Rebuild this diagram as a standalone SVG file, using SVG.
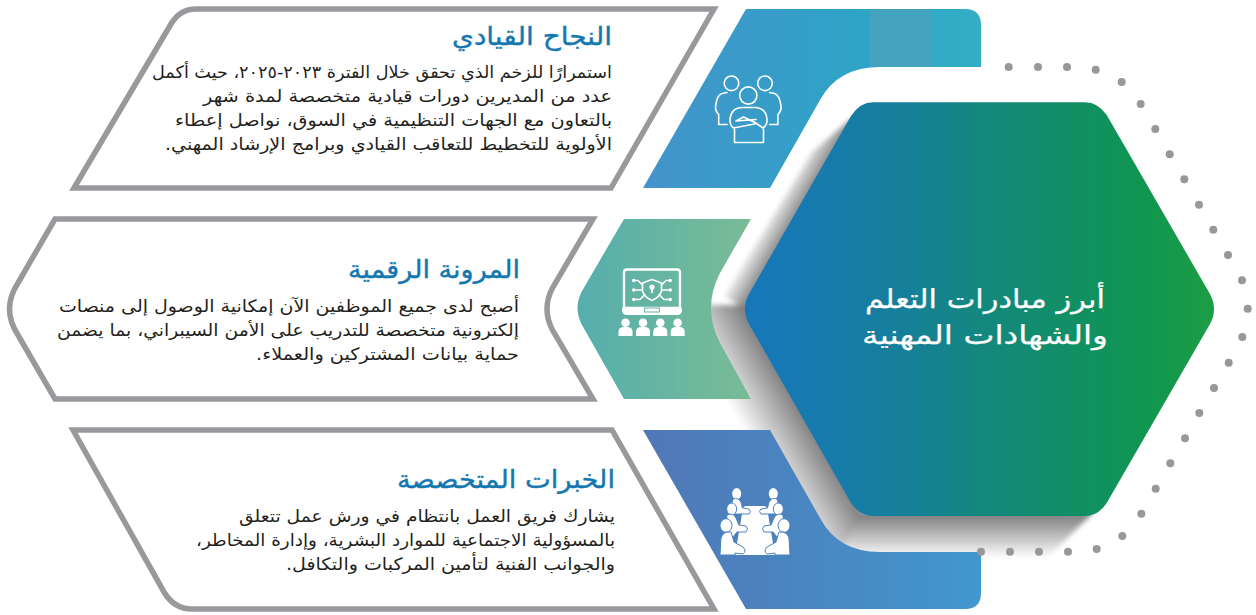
<svg xmlns="http://www.w3.org/2000/svg" width="1256" height="615" viewBox="0 0 1256 615">
<style>
text{font-family:"DejaVu Sans","Noto Sans",sans-serif;direction:rtl;text-anchor:start}
.h{font-size:25px;fill:#1577b0;stroke:#1577b0;stroke-width:.4}
.b{font-size:17px;fill:#231f20}
.c{font-size:26px;fill:#fff;stroke:#fff;stroke-width:.25}
.o{fill:#fff;stroke:#98999c;stroke-width:5.5;stroke-linejoin:miter}
.d{fill:#98989c}
.l{fill:none;stroke:#fff;stroke-width:1.6;stroke-linejoin:round;stroke-linecap:round}
.w{fill:#fff}
.p{fill:#fff;stroke:#4c83bd;stroke-width:1;stroke-linejoin:round}
</style>
<defs>
<linearGradient id="gTop" gradientUnits="userSpaceOnUse" x1="643" y1="0" x2="981" y2="0"><stop offset="0" stop-color="#4393cb"/><stop offset=".67" stop-color="#2da5c6"/><stop offset="1" stop-color="#33aec5"/></linearGradient>
<linearGradient id="gMid" gradientUnits="userSpaceOnUse" x1="577" y1="0" x2="751" y2="0"><stop offset="0" stop-color="#55aead"/><stop offset="1" stop-color="#79bc95"/></linearGradient>
<linearGradient id="gBot" gradientUnits="userSpaceOnUse" x1="643" y1="0" x2="981" y2="0"><stop offset="0" stop-color="#5077b5"/><stop offset="1" stop-color="#4297cf"/></linearGradient>
<linearGradient id="gHex" gradientUnits="userSpaceOnUse" x1="745" y1="0" x2="1214" y2="0"><stop offset="0" stop-color="#1777bb"/><stop offset=".3" stop-color="#167e9f"/><stop offset=".5" stop-color="#14877f"/><stop offset=".85" stop-color="#0f9650"/><stop offset="1" stop-color="#1d9d44"/></linearGradient>
<linearGradient id="sU" gradientUnits="userSpaceOnUse" x1="745" y1="309" x2="720.8" y2="295"><stop offset="0" stop-color="#7f7f81"/><stop offset="1" stop-color="#fff"/></linearGradient>
<linearGradient id="sL" gradientUnits="userSpaceOnUse" x1="745" y1="309" x2="691.3" y2="340"><stop offset="0" stop-color="#7c7c7e"/><stop offset="1" stop-color="#fff"/></linearGradient>
<linearGradient id="sB" gradientUnits="userSpaceOnUse" x1="0" y1="514" x2="0" y2="558"><stop offset="0" stop-color="#7c7c7e"/><stop offset="1" stop-color="#fff"/></linearGradient>
<filter id="soft" x="-10%" y="-10%" width="120%" height="120%"><feGaussianBlur stdDeviation="2.5"/></filter>
</defs>
<rect width="1256" height="615" fill="#fff"/>

<g id="connectors">
<g id="shadow" filter="url(#soft)">
<path d="M852 118L812 152L724 296L745 309L760 309L860 130Z" fill="url(#sU)"/>
<path d="M745 305L691 305L691 340L812 600L840 600L864 516L760 305Z" fill="url(#sL)"/>
<path d="M862 512L1094 512L1047 558L836 558Z" fill="url(#sB)"/>
</g>
</g>

<g id="panel-top">
<path class="o" d="M74 188L171 24Q180 9 196 9L714 9L611 188Z"/>
<path fill="url(#gTop)" d="M643 188L746 9L965 9Q981 9 981 25L981 67L880 67Q838 67 820 100L770 188Z"/>
<rect x="870" y="9" width="62" height="58" fill="#45a3c0"/>
<g id="icon-leaders">
<circle class="l" cx="731.5" cy="83.3" r="7.3"/><circle class="l" cx="765" cy="83.3" r="7.3"/><circle class="l" cx="748.3" cy="95.5" r="8.6"/>
<path class="l" d="M727 92.5L722 93.5Q717 95 715.6 106Q715 111 718.7 114.5L718.7 124.5L727 124.5"/>
<path class="l" d="M769.6 92.5L774.6 93.5Q779.6 95 781 106Q781.6 111 777.9 114.5L777.9 124.5L769.6 124.5"/>
<path class="l" d="M733.5 128Q729.5 125 730 119Q731 108 742 107.5L755 107.5Q766 108 767 119Q767.5 125 763 128L755 122.5L743.5 117L736 121M733.5 128L757 123.5M736 121L756 119.5"/>
<path class="l" d="M734.5 129L734.5 142.5L763.5 142.5L763.5 129"/>
</g>
<text class="h" x="612" y="45" textLength="160" lengthAdjust="spacingAndGlyphs">النجاح القيادي</text>
<text class="b" x="612" y="78" textLength="460" lengthAdjust="spacingAndGlyphs">استمرارًا للزخم الذي تحقق خلال الفترة ٢٠٢٣-٢٠٢٥، حيث أكمل</text>
<text class="b" x="612" y="102" textLength="409" lengthAdjust="spacingAndGlyphs">عدد من المديرين دورات قيادية متخصصة لمدة شهر</text>
<text class="b" x="612" y="126" textLength="437" lengthAdjust="spacingAndGlyphs">بالتعاون مع الجهات التنظيمية في السوق، نواصل إعطاء</text>
<text class="b" x="612" y="150" textLength="447" lengthAdjust="spacingAndGlyphs">الأولوية للتخطيط للتعاقب القيادي وبرامج الإرشاد المهني.</text>
</g>

<g id="panel-middle">
<path class="o" d="M55 219L593 219L553 287Q541 309 553 331L593 399L55 399L18 335Q1 309 18 283Z"/>
<path fill="url(#gMid)" d="M624 219L751 219L720 273Q702 308 720 343L751 399L624 399L582 325Q573 308 582 291Z"/>
<g id="icon-cyber">
<path d="M627 269.5L677 269.5Q680 269.5 680 272.5L680 308L624 308L624 272.5Q624 269.5 627 269.5Z" fill="none" stroke="#fff" stroke-width="2.4"/>
<path class="w" d="M622 308L682 308L682 310Q682 315 677 315L627 315Q622 315 622 310Z"/>
<rect x="644.5" y="308" width="15" height="4" fill="none" stroke="#66b3a4" stroke-width="1"/>
<path class="l" d="M652 279.5L661.5 283L661.5 291Q660 297 652 300.5Q644 297 642.5 291L642.5 283Z"/>
<circle class="w" cx="652" cy="287" r="2.6"/><rect class="w" x="651" y="287" width="2" height="6"/>
<path class="l" d="M642.5 285L638 280.5L635 280.5M642.5 290L635 290M644.5 295L640 299.5L635 299.5M661.5 285L666 280.5L669 280.5M661.5 290L669 290M659.5 295L664 299.5L669 299.5"/>
<g class="w"><circle cx="633.7" cy="280.5" r="1.7"/><circle cx="633.7" cy="290" r="1.7"/><circle cx="633.7" cy="299.5" r="1.7"/><circle cx="670.3" cy="280.5" r="1.7"/><circle cx="670.3" cy="290" r="1.7"/><circle cx="670.3" cy="299.5" r="1.7"/></g>
<g class="w">
<circle cx="625.5" cy="322.7" r="4.3"/><path d="M618.5 336L618.5 331Q619 327 624 327L627 327Q632 327 632.5 331L632.5 336Z"/>
<circle cx="643" cy="322.7" r="4.3"/><path d="M636 336L636 331Q636.5 327 641.5 327L644.5 327Q649.5 327 650 331L650 336Z"/>
<circle cx="660.3" cy="322.7" r="4.3"/><path d="M653.3 336L653.3 331Q653.8 327 658.8 327L661.8 327Q666.8 327 667.3 331L667.3 336Z"/>
<circle cx="677.7" cy="322.7" r="4.3"/><path d="M670.7 336L670.7 331Q671.2 327 676.2 327L679.2 327Q684.2 327 684.7 331L684.7 336Z"/>
</g>
</g>
<text class="h" x="520" y="278" textLength="172" lengthAdjust="spacingAndGlyphs">المرونة الرقمية</text>
<text class="b" x="519" y="312" textLength="460" lengthAdjust="spacingAndGlyphs">أصبح لدى جميع الموظفين الآن إمكانية الوصول إلى منصات</text>
<text class="b" x="519" y="336" textLength="462" lengthAdjust="spacingAndGlyphs">إلكترونية متخصصة للتدريب على الأمن السيبراني، بما يضمن</text>
<text class="b" x="519" y="360" textLength="263" lengthAdjust="spacingAndGlyphs">حماية بيانات المشتركين والعملاء.</text>
</g>

<g id="panel-bottom">
<path class="o" d="M73 430L612 430L714 609L192 609Q174 609 164 592Z"/>
<path fill="url(#gBot)" d="M643 430L770 430L820 518Q838 552 880 552L981 552L981 593Q981 609 965 609L746 609Z"/>
<g id="icon-meeting">
<path class="w" d="M746 506L764 506Q766 506 767 508L775 555L735 555L743 508Q744 506 746 506Z"/>
<g>
<ellipse class="w" cx="736.7" cy="493.7" rx="4.5" ry="5.7"/>
<path class="p" d="M733 499Q738 497 741 502L742.5 508L749 509Q752 511.5 749 514L741 514L735 514L731 506Z"/>
<ellipse class="p" cx="731.7" cy="509" rx="5" ry="6"/>
<path class="p" d="M727 515Q733 512 736 518L739 525L746 526Q749 529 746 532L737 532L733 537L726 530Z"/>
<ellipse class="p" cx="726" cy="525.5" rx="6" ry="6.8"/>
<path class="p" d="M720 555L721 538Q723 531 731 532L734 542L743 547Q747 551 743 554L735 553L735 555Z"/>
</g>
<g transform="translate(1510 0) scale(-1 1)">
<ellipse class="w" cx="736.7" cy="493.7" rx="4.5" ry="5.7"/>
<path class="p" d="M733 499Q738 497 741 502L742.5 508L749 509Q752 511.5 749 514L741 514L735 514L731 506Z"/>
<ellipse class="p" cx="731.7" cy="509" rx="5" ry="6"/>
<path class="p" d="M727 515Q733 512 736 518L739 525L746 526Q749 529 746 532L737 532L733 537L726 530Z"/>
<ellipse class="p" cx="726" cy="525.5" rx="6" ry="6.8"/>
<path class="p" d="M720 555L721 538Q723 531 731 532L734 542L743 547Q747 551 743 554L735 553L735 555Z"/>
</g>
</g>
<text class="h" x="615" y="488" textLength="218" lengthAdjust="spacingAndGlyphs">الخبرات المتخصصة</text>
<text class="b" x="615" y="522" textLength="376" lengthAdjust="spacingAndGlyphs">يشارك فريق العمل بانتظام في ورش عمل تتعلق</text>
<text class="b" x="615" y="546" textLength="419" lengthAdjust="spacingAndGlyphs">بالمسؤولية الاجتماعية للموارد البشرية، وإدارة المخاطر،</text>
<text class="b" x="615" y="570" textLength="329" lengthAdjust="spacingAndGlyphs">والجوانب الفنية لتأمين المركبات والتكافل.</text>
</g>

<g id="dots" class="d">
<circle cx="1008.7" cy="67" r="4"/><circle cx="1038" cy="67" r="4"/><circle cx="1067" cy="67" r="4"/><circle cx="1095.7" cy="69.7" r="4"/><circle cx="1121.7" cy="82" r="4"/><circle cx="1140.7" cy="104" r="4"/><circle cx="1155.3" cy="129" r="4"/><circle cx="1169.7" cy="154.3" r="4"/><circle cx="1184.3" cy="179.3" r="4"/><circle cx="1199" cy="204.7" r="4"/><circle cx="1213.3" cy="229.7" r="4"/><circle cx="1228" cy="255" r="4"/><circle cx="1242" cy="280.3" r="4"/><circle cx="1247.7" cy="308.7" r="4"/><circle cx="1242.3" cy="337" r="4"/><circle cx="1228.7" cy="362.7" r="4"/><circle cx="1214" cy="388" r="4"/><circle cx="1199.3" cy="413" r="4"/><circle cx="1185" cy="438.3" r="4"/><circle cx="1170.3" cy="463.3" r="4"/><circle cx="1155.7" cy="488.7" r="4"/><circle cx="1141.3" cy="513.7" r="4"/><circle cx="1122.3" cy="536" r="4"/><circle cx="1096.7" cy="549" r="4"/><circle cx="1068" cy="551.7" r="4"/><circle cx="1039" cy="551.7" r="4"/><circle cx="1010" cy="551.7" r="4"/><circle cx="981" cy="551.7" r="4"/>
</g>

<g id="hub">
<path fill="url(#gHex)" d="M873 102.3L1085 102.3Q1098 102.3 1106.7 115L1210 294Q1218 309 1210 324L1106.7 503Q1098 516 1085 516L873 516Q860 516 851 503L749 324Q741 309 749 294L851 116Q860 102.3 873 102.3Z"/>
<text class="c" x="1105" y="308" textLength="240" lengthAdjust="spacingAndGlyphs">أبرز مبادرات التعلم</text>
<text class="c" x="1108" y="344" textLength="246" lengthAdjust="spacingAndGlyphs">والشهادات المهنية</text>
</g>
</svg>
